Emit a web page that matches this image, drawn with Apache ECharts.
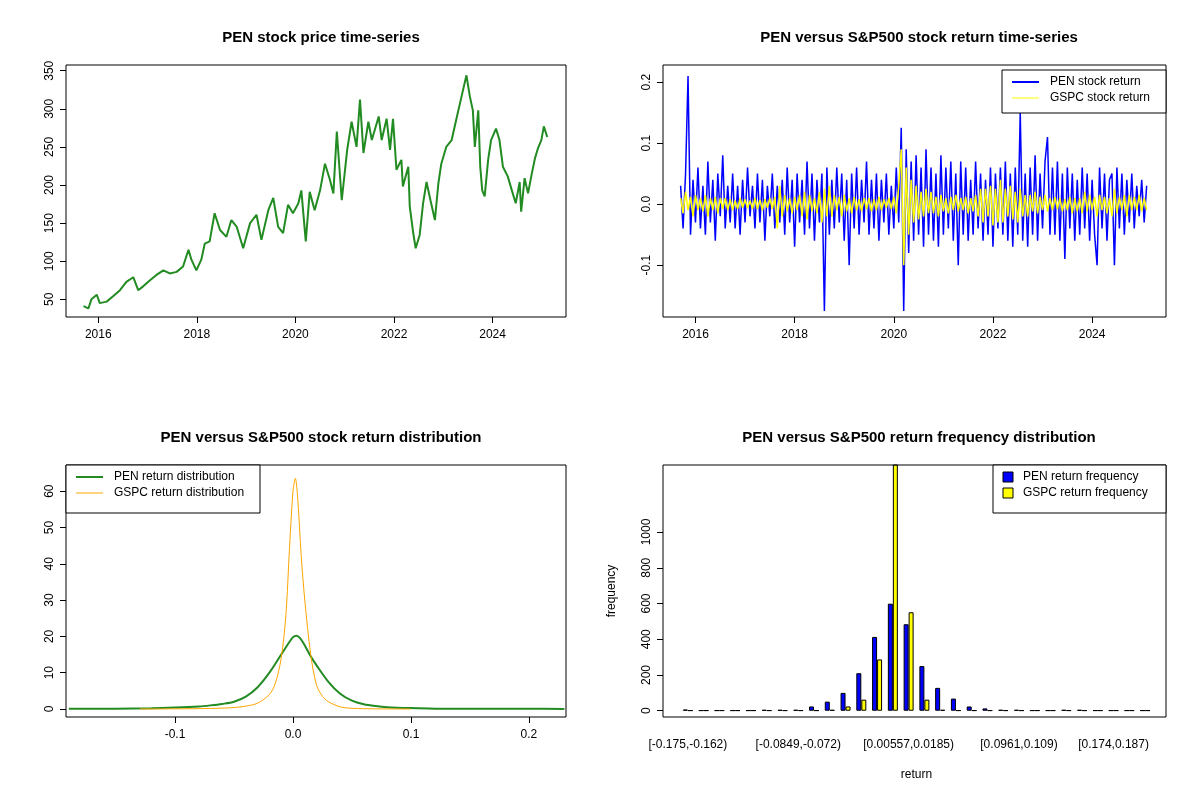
<!DOCTYPE html>
<html><head><meta charset="utf-8">
<script src="https://cdn.jsdelivr.net/npm/echarts@6/dist/echarts.min.js"></script>
<style>html,body{margin:0;background:#fff}#c{width:1200px;height:800px}</style>
</head><body><div id="c"></div>
<script>
// ---- price series (decimal year, price) ----
const priceYears = [2015.70,2015.80,2015.86,2015.97,2016.03,2016.17,2016.30,2016.44,2016.57,2016.71,2016.81,2016.91,2017.05,2017.18,2017.32,2017.45,2017.59,2017.72,2017.83,2017.89,2017.99,2018.09,2018.16,2018.26,2018.36,2018.47,2018.60,2018.70,2018.81,2018.94,2019.08,2019.21,2019.31,2019.45,2019.55,2019.65,2019.75,2019.85,2019.95,2020.06,2020.12,2020.21,2020.29,2020.39,2020.50,2020.60,2020.70,2020.77,2020.84,2020.94,2021.05,2021.14,2021.24,2021.31,2021.38,2021.48,2021.55,2021.69,2021.75,2021.85,2021.92,2021.98,2022.05,2022.15,2022.18,2022.29,2022.32,2022.39,2022.44,2022.52,2022.59,2022.66,2022.74,2022.83,2022.90,2022.96,2023.06,2023.17,2023.26,2023.37,2023.47,2023.54,2023.60,2023.64,2023.71,2023.75,2023.79,2023.84,2023.91,2023.97,2024.07,2024.14,2024.21,2024.31,2024.40,2024.47,2024.55,2024.58,2024.65,2024.72,2024.79,2024.86,2024.92,2024.99,2025.04,2025.11];
const priceValues = [41,38,50,56,45,47,54,62,73,79,62,67,75,82,88,84,86,93,115,102,88,102,123,126,163,141,132,154,145,117,150,161,128,167,183,145,137,174,163,176,193,126,191,167,193,228,207,189,270,180,246,283,250,312,242,283,259,290,259,287,246,287,220,233,198,224,172,137,117,134,176,204,180,154,202,228,250,259,285,316,344,316,298,250,298,224,193,185,233,259,274,259,224,211,191,176,204,165,209,189,213,235,248,259,277,263];

// ---- returns, sampled every 0.05 year from 2015.70 ----
const returnStart = 2015.70, returnStep = 0.05;
const penReturns = [0.03,-0.04,0.05,0.21,-0.05,0.04,-0.03,0.06,-0.04,0.03,
-0.05,0.07,-0.03,0.04,-0.06,0.05,-0.02,0.08,-0.04,0.03,
-0.03,0.05,-0.04,0.03,-0.05,0.04,-0.03,0.06,-0.02,0.03,
-0.04,0.05,-0.03,0.04,-0.06,0.03,-0.02,0.05,-0.04,0.03,
-0.03,0.04,-0.05,0.06,-0.03,0.04,-0.07,0.05,-0.03,0.04,
-0.05,0.07,-0.04,0.05,-0.06,0.04,-0.03,0.05,-0.175,0.06,
-0.05,0.04,-0.04,0.06,-0.03,0.05,-0.06,0.04,-0.1,0.05,
-0.04,0.06,-0.05,0.04,-0.03,0.07,-0.05,0.04,-0.04,0.05,
-0.06,0.04,-0.03,0.05,-0.05,0.03,-0.04,0.06,-0.03,0.125,
-0.175,0.09,-0.08,0.07,-0.06,0.08,-0.05,0.06,-0.07,0.09,
-0.05,0.06,-0.06,0.05,-0.07,0.08,-0.05,0.06,-0.04,0.07,
-0.06,0.05,-0.1,0.07,-0.05,0.06,-0.06,0.04,-0.05,0.07,
-0.04,0.05,-0.06,0.04,-0.05,0.06,-0.07,0.05,-0.04,0.06,
-0.05,0.07,-0.06,0.05,-0.07,0.06,-0.05,0.15,-0.06,0.05,
-0.07,0.06,-0.05,0.08,-0.06,0.05,-0.04,0.07,0.11,-0.05,
0.06,-0.05,0.07,-0.06,0.05,-0.09,0.06,-0.04,0.05,-0.06,
0.04,-0.05,0.06,-0.04,0.05,-0.06,0.04,-0.05,-0.1,0.06,
-0.04,0.05,-0.06,0.04,0.05,-0.1,0.06,-0.04,0.05,-0.05,
0.04,-0.03,0.05,-0.04,0.03,-0.02,0.04,-0.03,0.03];
const gspcReturns = [0.01,-0.015,0.02,-0.01,0.012,-0.02,0.015,-0.01,0.01,-0.012,
0.015,-0.02,0.01,-0.01,0.012,-0.015,0.01,-0.008,0.01,-0.01,
0.008,-0.01,0.006,-0.008,0.01,-0.006,0.008,-0.007,0.006,-0.008,
0.01,-0.008,0.007,-0.01,0.008,-0.006,0.01,-0.008,0.012,-0.04,
0.03,-0.02,0.015,-0.012,0.01,-0.015,0.012,-0.01,0.015,-0.02,
0.02,-0.025,0.015,-0.012,0.01,-0.015,0.02,-0.03,0.025,-0.02,
0.03,-0.02,0.015,-0.01,0.012,-0.02,0.015,-0.012,0.01,-0.015,
0.012,-0.01,0.008,-0.012,0.01,-0.008,0.01,-0.012,0.008,-0.01,
0.012,-0.01,0.008,-0.006,0.01,-0.008,0.012,-0.015,0.03,0.09,
-0.1,0.06,-0.05,0.04,-0.03,0.03,-0.025,0.02,-0.02,0.025,
-0.015,0.02,-0.015,0.012,-0.02,0.015,-0.012,0.01,-0.015,0.012,
-0.01,0.015,-0.012,0.01,-0.01,0.012,-0.015,0.01,-0.012,0.015,
-0.02,0.025,-0.03,0.025,-0.02,0.03,-0.035,0.025,-0.03,0.04,
-0.03,0.025,-0.02,0.03,-0.025,0.02,-0.03,0.025,-0.02,0.015,
-0.02,0.015,-0.012,0.02,-0.015,0.012,-0.01,0.015,-0.012,0.01,
-0.01,0.012,-0.008,0.01,-0.012,0.008,-0.01,0.012,-0.015,0.01,
-0.012,0.01,-0.015,0.02,-0.012,0.015,-0.01,0.012,-0.02,0.015,
-0.01,0.012,-0.015,0.01,-0.02,0.025,-0.015,0.012,-0.01,0.015,
-0.02,0.015,-0.01,0.012,-0.01,0.015,-0.012,0.01,-0.01];

// ---- densities ----
const penDenX = [-0.19,-0.15,-0.12,-0.1,-0.08,-0.07,-0.06,-0.05,-0.04,-0.03,-0.02,-0.01,-0.005,0,0.003,0.006,0.01,0.015,0.02,0.03,0.04,0.05,0.06,0.07,0.08,0.1,0.12,0.15,0.2,0.23];
const penDenY = [0.05,0.1,0.2,0.4,0.7,1.0,1.4,2.0,3.4,6.0,10,15,17.5,19.8,20.2,19.5,17.5,14.5,12,7.5,4.2,2.3,1.3,0.8,0.5,0.25,0.1,0.05,0.05,0.02];
const gspcDenX = [-0.13,-0.1,-0.07,-0.05,-0.04,-0.03,-0.02,-0.015,-0.01,-0.006,-0.003,0,0.002,0.004,0.007,0.01,0.015,0.02,0.025,0.03,0.04,0.05,0.07,0.1];
const gspcDenY = [0.02,0.05,0.15,0.4,0.8,1.6,4,7,14,26,44,60,63.5,58,42,30,15,6.5,3.5,2,0.6,0.2,0.05,0.01];

// ---- histogram ----
const histBins = ['[-0.175,-0.162)','[-0.162,-0.149)','[-0.149,-0.136)','[-0.136,-0.123)','[-0.123,-0.11)','[-0.11,-0.0975)','[-0.0975,-0.0849)','[-0.0849,-0.072)','[-0.072,-0.0591)','[-0.0591,-0.0462)','[-0.0462,-0.0333)','[-0.0333,-0.0203)','[-0.0203,-0.00737)','[-0.00737,0.00557)','[0.00557,0.0185)','[0.0185,0.0314)','[0.0314,0.0443)','[0.0443,0.0573)','[0.0573,0.0702)','[0.0702,0.0831)','[0.0831,0.0961)','[0.0961,0.109)','[0.109,0.122)','[0.122,0.135)','[0.135,0.148)','[0.148,0.161)','[0.161,0.174)','[0.174,0.187)','[0.187,0.2)','[0.2,0.213)'];
const penFreq  = [7,2,2,2,2,5,5,5,24,51,100,210,413,599,484,250,128,68,24,13,5,5,2,2,5,5,2,2,2,2];
const gspcFreq = [2,2,2,2,2,2,2,2,2,5,24,62,287,1400,551,62,5,2,2,2,2,2,2,2,2,2,2,2,2,2];
const histLabelIdx = [0,7,14,21,27];

const yearTicks = [2016,2018,2020,2022,2024];

const rXs = penReturns.map((_, i) => returnStart + i * returnStep);
const FONT = 'Liberation Sans, Arial, sans-serif';
const lab = {color:'#000', fontFamily:FONT, fontSize:12};
const tick = {show:true, inside:false, length:6, lineStyle:{color:'#000'}};
function vAxis(gi, min, max, vals, fmt, isY, extra) {
  return Object.assign({
    type:'value', gridIndex:gi, min, max, splitLine:{show:false},
    axisLine:{show:false, onZero:false},
    axisTick:Object.assign({customValues:vals}, tick),
    axisLabel:Object.assign({customValues:vals, formatter:fmt, margin:isY?10:12, rotate:isY?90:0}, lab)
  }, extra||{});
}
const gridBox = {show:true, borderColor:'#000', borderWidth:1, backgroundColor:'transparent'};
const titleStyle = {fontFamily:FONT, fontSize:15, fontWeight:'bold', color:'#000'};

function legendBox(x,y,w,h,items){
  const els=[{type:'rect', shape:{x,y,width:w,height:h}, style:{fill:'#fff', stroke:'#000', lineWidth:1}, z:100}];
  items.forEach((it,i)=>{
    const cy=y+12+i*16;
    if(it.rect){
      els.push({type:'rect', shape:{x:x+10,y:cy-5,width:10,height:10}, style:{fill:it.color, stroke:'#000', lineWidth:1}, z:101});
    } else {
      els.push({type:'line', shape:{x1:x+10,y1:cy,x2:x+37,y2:cy}, style:{stroke:it.color, lineWidth:it.lw}, z:101});
    }
    els.push({type:'text', x:x+(it.rect?30:48), y:cy, style:{text:it.text, fill:'#000', font:'12px '+FONT, textVerticalAlign:'middle'}, z:101});
  });
  return els;
}

const chart = echarts.init(document.getElementById('c'), null, {renderer:'canvas'});
chart.setOption({
  animation:false,
  backgroundColor:'#fff',
  title:[
    {text:'PEN stock price time-series', left:316, top:25, textAlign:'center', textStyle:titleStyle},
    {text:'PEN versus S&P500 stock return time-series', left:914, top:25, textAlign:'center', textStyle:titleStyle},
    {text:'PEN versus S&P500 stock return distribution', left:316, top:425, textAlign:'center', textStyle:titleStyle},
    {text:'PEN versus S&P500 return frequency distribution', left:914, top:425, textAlign:'center', textStyle:titleStyle}
  ],
  grid:[
    Object.assign({left:66, top:65, width:500, height:252}, gridBox),
    Object.assign({left:663, top:65, width:503, height:252}, gridBox),
    Object.assign({left:66, top:465, width:500, height:252}, gridBox),
    {left:680, top:465, width:473, height:252, show:false}
  ],
  xAxis:[
    vAxis(0, 2015.345, 2025.49, yearTicks, v=>String(v), false),
    vAxis(1, 2015.345, 2025.49, yearTicks, v=>String(v), false),
    vAxis(2, -0.1924, 0.2314, [-0.1,0,0.1,0.2], v=>v.toFixed(1), false),
    {type:'category', gridIndex:3, data:histBins, boundaryGap:true,
     axisLine:{show:false, onZero:false}, axisTick:{show:false}, splitLine:{show:false},
     axisLabel:Object.assign({interval:(i)=>histLabelIdx.includes(i), margin:22}, lab),
     name:'return', nameLocation:'middle', nameGap:52, nameTextStyle:lab}
  ],
  yAxis:[
    vAxis(0, 26.8, 357.5, [50,100,150,200,250,300,350], v=>String(v), true),
    vAxis(1, -0.185, 0.228, [-0.1,0,0.1,0.2], v=>v.toFixed(1), true),
    vAxis(2, -2.2, 67.2, [0,10,20,30,40,50,60], v=>String(v), true),
    vAxis(3, -35, 1375, [0,200,400,600,800,1000], v=>String(v), true,
      {offset:17, name:'frequency', nameLocation:'middle', nameGap:45, nameRotate:90, nameTextStyle:lab})
  ],
  series:[
    {type:'line', xAxisIndex:0, yAxisIndex:0, data:priceYears.map((x,i)=>[x,priceValues[i]]), showSymbol:false, lineStyle:{color:'#228B22', width:2}},
    {type:'line', xAxisIndex:1, yAxisIndex:1, data:rXs.map((x,i)=>[x,penReturns[i]]), showSymbol:false, lineStyle:{color:'#0000FF', width:1.5}},
    {type:'line', xAxisIndex:1, yAxisIndex:1, data:rXs.map((x,i)=>[x,gspcReturns[i]]), showSymbol:false, lineStyle:{color:'#FFFF00', width:1.5}},
    {type:'line', xAxisIndex:2, yAxisIndex:2, data:penDenX.map((x,i)=>[x,penDenY[i]]), showSymbol:false, smooth:0.3, lineStyle:{color:'#228B22', width:2}},
    {type:'line', xAxisIndex:2, yAxisIndex:2, data:gspcDenX.map((x,i)=>[x,gspcDenY[i]]), showSymbol:false, smooth:0.3, lineStyle:{color:'#FFA500', width:1}},
    {type:'bar', xAxisIndex:3, yAxisIndex:3, data:penFreq, barWidth:5, barGap:'0%', itemStyle:{color:'#0000FF', borderColor:'#000', borderWidth:1}},
    {type:'bar', xAxisIndex:3, yAxisIndex:3, data:gspcFreq, barWidth:5, barGap:'0%', itemStyle:{color:'#FFFF00', borderColor:'#000', borderWidth:1}}
  ],
  graphic:[
    {type:'rect', shape:{x:663,y:465,width:503,height:252}, style:{fill:'none', stroke:'#000', lineWidth:1}, z:50},
    ...legendBox(1002,70,164,43,[{text:'PEN stock return', color:'#0000FF', lw:2},{text:'GSPC stock return', color:'#FFFF00', lw:1}]),
    ...legendBox(66,465,194,48,[{text:'PEN return distribution', color:'#228B22', lw:2},{text:'GSPC return distribution', color:'#FFA500', lw:1}]),
    ...legendBox(993,465,173,48,[{text:'PEN return frequency', color:'#0000FF', rect:true},{text:'GSPC return frequency', color:'#FFFF00', rect:true}])
  ]
});
</script></body></html>
